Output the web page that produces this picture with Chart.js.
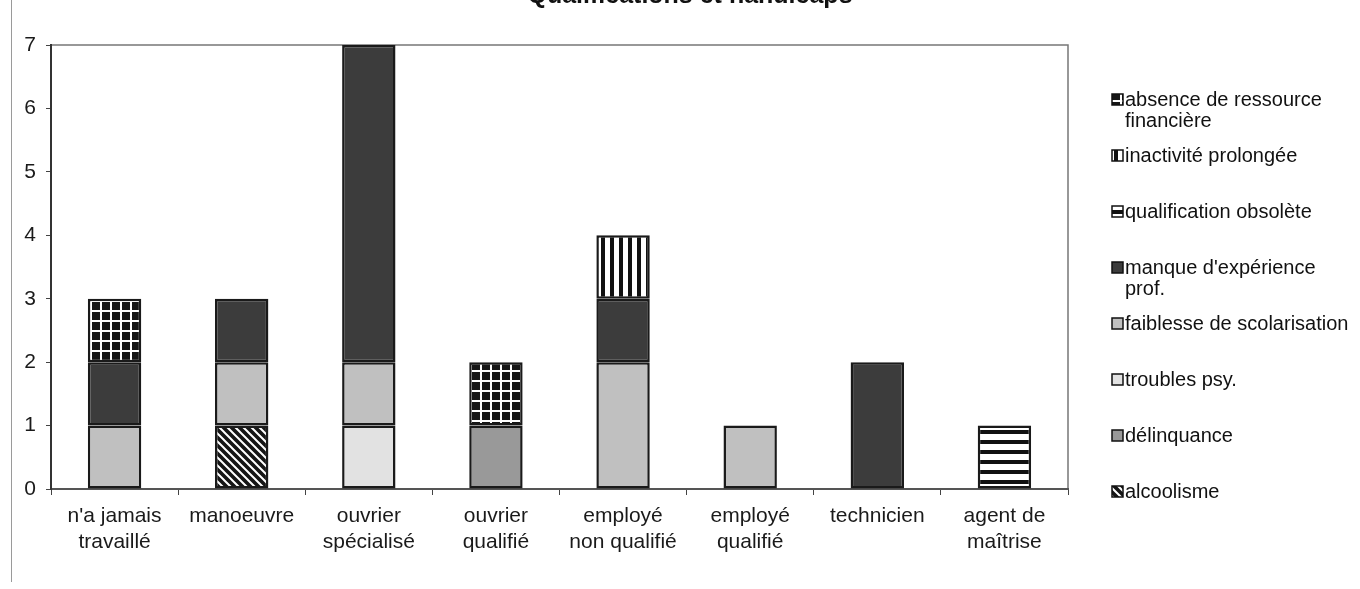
<!DOCTYPE html>
<html>
<head>
<meta charset="utf-8">
<script src="https://cdn.jsdelivr.net/npm/chart.js@4.4.1/dist/chart.umd.min.js"></script>
<style>
  html, body { margin: 0; padding: 0; background: #fff; }
  #wrap { width: 1360px; height: 589px; position: relative; }
</style>
</head>
<body>
<div id="wrap"><canvas id="chart"></canvas></div>
<script>
// categories (x axis), bottom to top series order
const categories = [
  ["n'a jamais", "travaillé"], "manoeuvre", ["ouvrier", "spécialisé"], ["ouvrier", "qualifié"],
  ["employé", "non qualifié"], ["employé", "qualifié"], "technicien", ["agent de", "maîtrise"]
];
const seriesNames = [
  "alcoolisme", "délinquance", "troubles psy.", "faiblesse de scolarisation",
  "manque d'expérience prof.", "qualification obsolète", "inactivité prolongée",
  "absence de ressource financière"
];
const legendLines = [
  ["alcoolisme"], ["délinquance"], ["troubles psy."], ["faiblesse de scolarisation"],
  ["manque d'expérience", "prof."], ["qualification obsolète"], ["inactivité prolongée"],
  ["absence de ressource", "financière"]
];
const alcoolisme   = [0, 1, 0, 0, 0, 0, 0, 0];
const delinquance  = [0, 0, 0, 1, 0, 0, 0, 0];
const troublesPsy  = [0, 0, 1, 0, 0, 0, 0, 0];
const faiblesse    = [1, 1, 1, 0, 2, 1, 0, 0];
const manqueExp    = [1, 1, 5, 0, 1, 0, 2, 0];
const qualifObs    = [0, 0, 0, 0, 0, 0, 0, 1];
const inactivite   = [0, 0, 0, 0, 1, 0, 0, 0];
const absenceRes   = [1, 0, 0, 1, 0, 0, 0, 0];
const yTicks = [0, 1, 2, 3, 4, 5, 6, 7];

const seriesValues = [alcoolisme, delinquance, troublesPsy, faiblesse, manqueExp, qualifObs, inactivite, absenceRes];

const FONT = '"Liberation Sans", Arial, Helvetica, sans-serif';

// hatch patterns like the old b/w print
function makePattern(w, h, draw) {
  const c = document.createElement('canvas');
  c.width = w; c.height = h;
  const g = c.getContext('2d');
  draw(g, w, h);
  return document.getElementById('chart').getContext('2d').createPattern(c, 'repeat');
}
const diag = makePattern(8, 8, (g, w, h) => {
  g.fillStyle = '#151515'; g.fillRect(0, 0, w, h);
  g.strokeStyle = '#fff'; g.lineWidth = 2;
  g.beginPath();
  g.moveTo(-2, -2); g.lineTo(w + 2, h + 2);
  g.moveTo(-2, h - 2); g.lineTo(2, h + 2);
  g.moveTo(w - 2, -2); g.lineTo(w + 2, 2);
  g.stroke();
});
const hStripes = makePattern(10, 10, (g, w, h) => {
  g.fillStyle = '#fff'; g.fillRect(0, 0, w, h);
  g.fillStyle = '#111'; g.fillRect(0, 0, w, 4);
});
const vStripes = makePattern(9, 9, (g, w, h) => {
  g.fillStyle = '#111'; g.fillRect(0, 0, w, h);
  g.fillStyle = '#fff'; g.fillRect(2, 0, 5, h);
});
const grid = makePattern(10, 10, (g, w, h) => {
  g.fillStyle = '#161616'; g.fillRect(0, 0, w, h);
  g.fillStyle = '#fff'; g.fillRect(0, 0, w, 2); g.fillRect(0, 0, 2, h);
});

const fills = [diag, '#999999', '#e2e2e2', '#c0c0c0', '#3c3c3c', hStripes, vStripes, grid];

const datasets = seriesNames.map((name, i) => ({
  label: name,
  data: seriesValues[i].map(v => v === 0 ? null : v),
  backgroundColor: fills[i],
  borderColor: '#1a1a1a',
  borderWidth: 2.5,
  borderSkipped: false,
  barPercentage: 0.42,
  categoryPercentage: 1.0
}));

const framePlugin = {
  id: 'frame',
  beforeDraw(chart) {
    const ctx = chart.ctx;
    ctx.save();
    ctx.strokeStyle = '#9a9a9a';
    ctx.lineWidth = 1;
    ctx.beginPath();
    ctx.moveTo(11.5, 0); ctx.lineTo(11.5, 582);
    ctx.stroke();
    const a = chart.chartArea;
    ctx.strokeStyle = '#777';
    ctx.lineWidth = 1.5;
    ctx.beginPath();
    ctx.moveTo(a.left, a.top); ctx.lineTo(a.right, a.top); ctx.lineTo(a.right, a.bottom);
    ctx.stroke();
    ctx.restore();
  }
};

const titlePlugin = {
  id: 'cutTitle',
  afterDraw(chart) {
    const ctx = chart.ctx;
    ctx.save();
    ctx.font = 'bold 25px ' + FONT;
    ctx.fillStyle = '#111';
    ctx.textAlign = 'center';
    ctx.textBaseline = 'alphabetic';
    ctx.fillText('Qualifications et handicaps', 690, 3);
    ctx.restore();
  }
};

const legendPlugin = {
  id: 'sideLegend',
  afterDraw(chart) {
    const ctx = chart.ctx;
    ctx.save();
    ctx.font = '20px ' + FONT;
    ctx.fillStyle = '#111';
    ctx.textBaseline = 'middle';
    ctx.textAlign = 'left';
    const n = chart.data.datasets.length;
    let y = 100;
    for (let k = n - 1; k >= 0; k--) {
      const ds = chart.data.datasets[k];
      ctx.fillStyle = ds.backgroundColor;
      ctx.fillRect(1112, y - 6, 11, 11);
      ctx.strokeStyle = '#111';
      ctx.lineWidth = 1.5;
      ctx.strokeRect(1112, y - 6, 11, 11);
      ctx.fillStyle = '#111';
      legendLines[k].forEach((ln, j) => ctx.fillText(ln, 1125, y + j * 21));
      y += 56;
    }
    ctx.restore();
  }
};

new Chart(document.getElementById('chart'), {
  type: 'bar',
  data: { labels: categories, datasets: datasets },
  plugins: [framePlugin, titlePlugin, legendPlugin],
  options: {
    responsive: true,
    maintainAspectRatio: false,
    animation: false,
    layout: { padding: { left: 0, right: 292, top: 45, bottom: 0 } },
    plugins: { legend: { display: false }, title: { display: false }, tooltip: { enabled: false } },
    scales: {
      x: {
        stacked: true,
        offset: true,
        grid: { offset: true, drawOnChartArea: false, drawTicks: true, tickLength: 6, color: '#444', lineWidth: 1 },
        border: { display: true, color: '#555', width: 2 },
        ticks: { color: '#1a1a1a', font: { family: FONT, size: 21, lineHeight: 1.2 }, padding: 9, maxRotation: 0, autoSkip: false },
        afterFit(scale) { scale.height = 100; }
      },
      y: {
        stacked: true,
        min: 0,
        max: 7,
        afterBuildTicks(scale) { scale.ticks = yTicks.map(v => ({ value: v })); },
        grid: { drawOnChartArea: false, drawTicks: true, tickLength: 5, color: '#444' },
        border: { display: true, color: '#333', width: 2 },
        ticks: { color: '#1a1a1a', font: { family: FONT, size: 21 }, padding: 10 },
        afterFit(scale) { scale.width = 51; }
      }
    }
  }
});
</script>
</body>
</html>
